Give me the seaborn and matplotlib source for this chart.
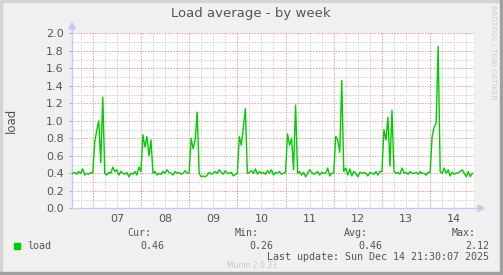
import numpy as np
import pandas as pd
import matplotlib
matplotlib.use("Agg")
import matplotlib.pyplot as plt
import seaborn as sns
from matplotlib.patches import Rectangle, Polygon

# ---- data (hourly load, starting Dec 6 14:00) ----
start_day = 6
start_hour = 14
dec06 = [0.40, 0.41, 0.39, 0.42, 0.40, 0.45, 0.38, 0.40, 0.39, 0.41]
dec07 = [0.40, 0.76, 0.89, 1.00, 0.52, 1.27, 0.40, 0.38, 0.41, 0.40, 0.47, 0.42,
         0.44, 0.38, 0.42, 0.40, 0.39, 0.41, 0.36, 0.40, 0.39, 0.42, 0.38, 0.47]
dec08 = [0.42, 0.84, 0.70, 0.82, 0.60, 0.78, 0.40, 0.42, 0.38, 0.40, 0.39, 0.42,
         0.40, 0.44, 0.41, 0.40, 0.38, 0.42, 0.40, 0.41, 0.39, 0.40, 0.43, 0.40]
dec09 = [0.41, 0.80, 0.68, 0.78, 1.10, 0.40, 0.36, 0.37, 0.36, 0.38, 0.41, 0.39,
         0.40, 0.42, 0.40, 0.44, 0.41, 0.39, 0.43, 0.40, 0.40, 0.41, 0.37, 0.39]
dec10 = [0.40, 0.82, 0.72, 0.92, 1.14, 0.40, 0.41, 0.43, 0.40, 0.45, 0.39, 0.42,
         0.40, 0.41, 0.39, 0.43, 0.40, 0.44, 0.38, 0.41, 0.40, 0.42, 0.39, 0.40]
dec11 = [0.41, 0.85, 0.72, 0.80, 0.44, 1.18, 0.40, 0.42, 0.38, 0.41, 0.36, 0.40,
         0.44, 0.41, 0.39, 0.40, 0.42, 0.38, 0.41, 0.40, 0.40, 0.46, 0.37, 0.40]
dec12 = [0.40, 0.82, 0.78, 0.64, 1.46, 0.42, 0.46, 0.38, 0.45, 0.37, 0.42, 0.40,
         0.36, 0.41, 0.40, 0.41, 0.40, 0.37, 0.41, 0.40, 0.39, 0.42, 0.38, 0.42]
dec13 = [0.42, 0.90, 0.78, 1.04, 0.48, 1.12, 0.42, 0.40, 0.41, 0.39, 0.46, 0.40,
         0.41, 0.39, 0.42, 0.40, 0.40, 0.41, 0.39, 0.42, 0.40, 0.40, 0.38, 0.41]
dec14 = [0.41, 0.82, 0.93, 0.97, 1.85, 0.42, 0.40, 0.46, 0.40, 0.44, 0.37, 0.41,
         0.39, 0.40, 0.41, 0.42, 0.44, 0.40, 0.36, 0.42, 0.36, 0.40]

day_labels = ["07", "08", "09", "10", "11", "12", "13", "14"]
label_days = [7, 8, 9, 10, 11, 12, 13, 14]
y_ticks = [0.0, 0.2, 0.4, 0.6, 0.8, 1.0, 1.2, 1.4, 1.6, 1.8, 2.0]

legend_name = "load"
stat_names = ["Cur:", "Min:", "Avg:", "Max:"]
stat_values = ["0.46", "0.26", "0.46", "2.12"]
last_update = "Last update: Sun Dec 14 21:30:07 2025"

values = dec06 + dec07 + dec08 + dec09 + dec10 + dec11 + dec12 + dec13 + dec14
hours = np.arange(len(values))
x_days = start_day + (start_hour + hours) / 24.0
df = pd.DataFrame({"day": x_days, "load": values})

# ---- figure ----
W, H = 503, 275
fig = plt.figure(figsize=(W / 100, H / 100), dpi=100, facecolor="#F0F0F0")

def fx(px):
    return px / W

def fy(py):
    return 1 - py / H

ax_left, ax_right, ax_top, ax_bot = 72, 474, 33.3, 208.3
ax = fig.add_axes([fx(ax_left), fy(ax_bot), (ax_right - ax_left) / W, (ax_bot - ax_top) / H])
ax.set_facecolor("white")

xmin, xmax = 6.57, 14.91
ax.set_xlim(xmin, xmax)
ax.set_ylim(0, 2.0)

# grid
major_red = "#EE9A9A"
minor_gray = "#CFCFCF"
dot = (0, (1.4, 1.4))
for d in np.arange(6.75, xmax, 0.25):
    if abs(d - round(d)) < 1e-6:
        continue
    ax.axvline(d, color=minor_gray, lw=0.72, ls=dot, zorder=1)
for d in label_days:
    ax.axvline(d, color=major_red, lw=0.72, ls=dot, zorder=1.1)
for yv in np.arange(0.1, 2.0, 0.2):
    ax.axhline(yv, color=minor_gray, lw=0.72, ls=dot, zorder=1)
for yv in y_ticks[1:]:
    ax.axhline(yv, color=major_red, lw=0.72, ls=dot, zorder=1.1)

sns.lineplot(data=df, x="day", y="load", ax=ax, color="#00CC00", lw=1.0, zorder=3)

ax.set_xticks([d + 0.5 for d in label_days])
ax.set_xticklabels(day_labels)
ax.set_yticks(y_ticks)
ax.set_yticklabels([f"{v:.1f}" for v in y_ticks])
ax.tick_params(axis="x", length=0, pad=4, labelsize=8, labelcolor="#555555")
ax.tick_params(axis="y", length=2, color=major_red, pad=4, labelsize=8, labelcolor="#555555")
ax.set_xlabel("")
ax.set_ylabel("")

for s in ["top", "right"]:
    ax.spines[s].set_visible(False)
axis_col = "#C8C8F8"
ax.spines["left"].set_color(axis_col)
ax.spines["bottom"].set_color(axis_col)
ax.spines["left"].set_linewidth(1.0)
ax.spines["bottom"].set_linewidth(1.0)

# axis extensions with arrows (figure pixel coords)
fig.add_artist(plt.Line2D([fx(ax_left), fx(ax_left)], [fy(ax_top), fy(27)], color=axis_col, lw=1.0))
fig.add_artist(plt.Line2D([fx(ax_right), fx(480)], [fy(ax_bot), fy(ax_bot)], color=axis_col, lw=1.0))
fig.add_artist(Polygon([[fx(ax_left - 3.5), fy(29)], [fx(ax_left + 3.5), fy(29)], [fx(ax_left), fy(23)]],
                       closed=True, color=axis_col, transform=fig.transFigure))
fig.add_artist(Polygon([[fx(478), fy(ax_bot - 3.5)], [fx(478), fy(ax_bot + 3.5)], [fx(484), fy(ax_bot)]],
                       closed=True, color=axis_col, transform=fig.transFigure))

# title and labels
fig.text(fx(251), fy(14), "Load average - by week", ha="center", va="center",
         fontsize=9.5, color="#555555", family="DejaVu Sans")
fig.text(fx(11), fy(120), "load", ha="center", va="center", rotation=90,
         fontsize=8.5, color="#555555", family="DejaVu Sans")
fig.text(fx(493), fy(5), "RRDTOOL / TOBI OETIKER", ha="center", va="top", rotation=270,
         fontsize=5.3, color="#CCCCCC", family="DejaVu Sans")

# legend
mono = "DejaVu Sans Mono"
fs = 7.2
tc = "#555555"
fig.add_artist(Rectangle((fx(14), fy(249)), 6 / W, 6 / H, color="#00CC00", transform=fig.transFigure))
fig.text(fx(27), fy(246), legend_name, ha="left", va="center", fontsize=fs, color=tc, family=mono)
name_right = [151, 259, 368, 476]
val_right = [164, 273, 382, 489]
for n, v, nr, vr in zip(stat_names, stat_values, name_right, val_right):
    fig.text(fx(nr), fy(233.5), n, ha="right", va="center", fontsize=fs, color=tc, family=mono)
    fig.text(fx(vr), fy(246), v, ha="right", va="center", fontsize=fs, color=tc, family=mono)
fig.text(fx(489), fy(257.5), last_update, ha="right", va="center", fontsize=fs, color=tc, family=mono)
fig.text(fx(252), fy(265), "Munin 2.0.33", ha="center", va="center", fontsize=5.5,
         color="#C8C8C8", family="DejaVu Sans")

# frame border
fig.add_artist(Rectangle((0, 0), 2 / W, 1, color="#D4D4D4", transform=fig.transFigure))
fig.add_artist(Rectangle((0, 1 - 2 / H), 1, 2 / H, color="#D4D4D4", transform=fig.transFigure))
fig.add_artist(Rectangle((1 - 3 / W, 0), 3 / W, 1, color="#A0A0A0", transform=fig.transFigure))
fig.add_artist(Rectangle((0, 0), 1, 3 / H, color="#A0A0A0", transform=fig.transFigure))

fig.savefig("out.png", dpi=100, facecolor=fig.get_facecolor())
